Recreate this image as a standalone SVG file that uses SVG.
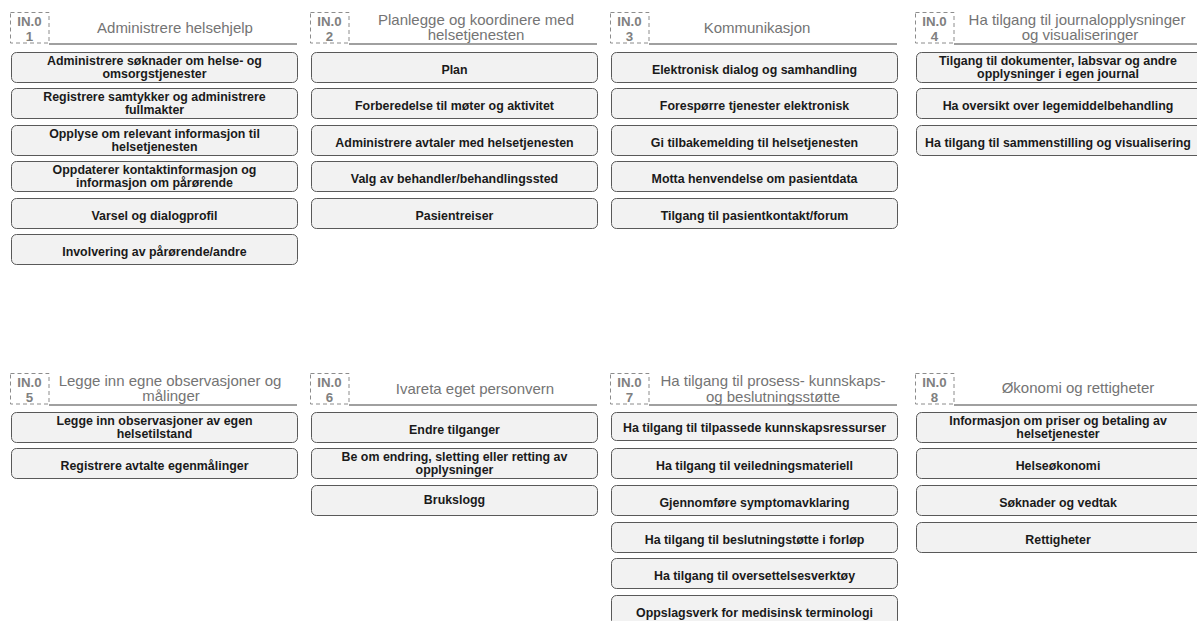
<svg xmlns="http://www.w3.org/2000/svg" width="1197" height="621" viewBox="0 0 1197 621">
<style>
.bg{fill:#ffffff}
.id{fill:none;stroke:#8c8c8c;stroke-width:1;stroke-dasharray:4 3}
.idt{font-family:"Liberation Sans",Arial,sans-serif;font-size:13.3px;font-weight:bold;fill:#808080;text-anchor:middle}
.hl{stroke:#808080;stroke-width:1.5}
.ht{font-family:"Liberation Sans",Arial,sans-serif;font-size:15px;fill:#747474;text-anchor:middle}
.b{fill:#f2f2f2;stroke:#595959;stroke-width:1}
.bt{font-family:"Liberation Sans",Arial,sans-serif;font-size:12.4px;font-weight:bold;fill:#1a1a1a;text-anchor:middle}
</style>
<rect class="bg" x="0" y="0" width="1197" height="621"/>

<!-- Column 1 -->
<g id="g1">
<rect class="id" x="10.5" y="12.5" width="38.5" height="30.5"/>
<text class="idt" x="29.5" y="26">IN.0</text><text class="idt" x="29.5" y="41">1</text>
<line class="hl" x1="49" y1="44" x2="297" y2="44"/>
<text class="ht" x="175" y="33">Administrere helsehjelp</text>
</g>
<g id="n1a"><rect class="b" x="11.5" y="52.5" width="286" height="30" rx="5"/><text class="bt" x="154.5" y="65">Administrere søknader om helse- og</text><text class="bt" x="154.5" y="77.5">omsorgstjenester</text></g>
<g id="n1b"><rect class="b" x="11.5" y="88.5" width="286" height="30" rx="5"/><text class="bt" x="154.5" y="101">Registrere samtykker og administrere</text><text class="bt" x="154.5" y="113.5">fullmakter</text></g>
<g id="n1c"><rect class="b" x="11.5" y="125.5" width="286" height="30" rx="5"/><text class="bt" x="154.5" y="138">Opplyse om relevant informasjon til</text><text class="bt" x="154.5" y="150.5">helsetjenesten</text></g>
<g id="n1d"><rect class="b" x="11.5" y="161.5" width="286" height="30" rx="5"/><text class="bt" x="154.5" y="174">Oppdaterer kontaktinformasjon og</text><text class="bt" x="154.5" y="186.5">informasjon om pårørende</text></g>
<g id="n1e"><rect class="b" x="11.5" y="198.5" width="286" height="30" rx="5"/><text class="bt" x="154.5" y="220">Varsel og dialogprofil</text></g>
<g id="n1f"><rect class="b" x="11.5" y="234.5" width="286" height="30" rx="5"/><text class="bt" x="154.5" y="256">Involvering av pårørende/andre</text></g>

<!-- Column 2 -->
<g id="g2">
<rect class="id" x="310.5" y="12.5" width="38.5" height="30.5"/>
<text class="idt" x="329.5" y="26">IN.0</text><text class="idt" x="329.5" y="41">2</text>
<line class="hl" x1="349" y1="44" x2="597" y2="44"/>
<text class="ht" x="476" y="25">Planlegge og koordinere med</text>
<text class="ht" x="476" y="40">helsetjenesten</text>
</g>
<g id="n2a"><rect class="b" x="311.5" y="52.5" width="286" height="30" rx="5"/><text class="bt" x="454.5" y="74">Plan</text></g>
<g id="n2b"><rect class="b" x="311.5" y="88.5" width="286" height="30" rx="5"/><text class="bt" x="454.5" y="110">Forberedelse til møter og aktivitet</text></g>
<g id="n2c"><rect class="b" x="311.5" y="125.5" width="286" height="30" rx="5"/><text class="bt" x="454.5" y="147">Administrere avtaler med helsetjenesten</text></g>
<g id="n2d"><rect class="b" x="311.5" y="161.5" width="286" height="30" rx="5"/><text class="bt" x="454.5" y="183">Valg av behandler/behandlingssted</text></g>
<g id="n2e"><rect class="b" x="311.5" y="198.5" width="286" height="30" rx="5"/><text class="bt" x="454.5" y="220">Pasientreiser</text></g>

<!-- Column 3 -->
<g id="g3">
<rect class="id" x="610.5" y="12.5" width="38.5" height="30.5"/>
<text class="idt" x="629.5" y="26">IN.0</text><text class="idt" x="629.5" y="41">3</text>
<line class="hl" x1="649" y1="44" x2="897" y2="44"/>
<text class="ht" x="757" y="33">Kommunikasjon</text>
</g>
<g id="n3a"><rect class="b" x="611.5" y="52.5" width="286" height="30" rx="5"/><text class="bt" x="754.5" y="74">Elektronisk dialog og samhandling</text></g>
<g id="n3b"><rect class="b" x="611.5" y="88.5" width="286" height="30" rx="5"/><text class="bt" x="754.5" y="110">Forespørre tjenester elektronisk</text></g>
<g id="n3c"><rect class="b" x="611.5" y="125.5" width="286" height="30" rx="5"/><text class="bt" x="754.5" y="147">Gi tilbakemelding til helsetjenesten</text></g>
<g id="n3d"><rect class="b" x="611.5" y="161.5" width="286" height="30" rx="5"/><text class="bt" x="754.5" y="183">Motta henvendelse om pasientdata</text></g>
<g id="n3e"><rect class="b" x="611.5" y="198.5" width="286" height="30" rx="5"/><text class="bt" x="754.5" y="220">Tilgang til pasientkontakt/forum</text></g>

<!-- Column 4 -->
<g id="g4">
<rect class="id" x="915.5" y="12.5" width="38.5" height="30.5"/>
<text class="idt" x="934.5" y="26">IN.0</text><text class="idt" x="934.5" y="41">4</text>
<line class="hl" x1="954" y1="44" x2="1197" y2="44"/>
<text class="ht" x="1077" y="25">Ha tilgang til journalopplysninger</text>
<text class="ht" x="1080" y="40">og visualiseringer</text>
</g>
<g id="n4a"><rect class="b" x="916.5" y="52.5" width="286" height="30" rx="5"/><text class="bt" x="1058" y="65">Tilgang til dokumenter, labsvar og andre</text><text class="bt" x="1058" y="77.5">opplysninger i egen journal</text></g>
<g id="n4b"><rect class="b" x="916.5" y="88.5" width="286" height="30" rx="5"/><text class="bt" x="1058" y="110">Ha oversikt over legemiddelbehandling</text></g>
<g id="n4c"><rect class="b" x="916.5" y="125.5" width="286" height="30" rx="5"/><text class="bt" x="1058" y="147">Ha tilgang til sammenstilling og visualisering</text></g>

<!-- Column 5 -->
<g id="g5">
<rect class="id" x="10.5" y="373.5" width="38.5" height="30.5"/>
<text class="idt" x="29.5" y="387">IN.0</text><text class="idt" x="29.5" y="402">5</text>
<line class="hl" x1="49" y1="405" x2="297" y2="405"/>
<text class="ht" x="170" y="386">Legge inn egne observasjoner og</text>
<text class="ht" x="171" y="401">målinger</text>
</g>
<g id="n5a"><rect class="b" x="11.5" y="412.5" width="286" height="30" rx="5"/><text class="bt" x="154.5" y="425">Legge inn observasjoner av egen</text><text class="bt" x="154.5" y="437.5">helsetilstand</text></g>
<g id="n5b"><rect class="b" x="11.5" y="448.5" width="286" height="30" rx="5"/><text class="bt" x="154.5" y="470">Registrere avtalte egenmålinger</text></g>

<!-- Column 6 -->
<g id="g6">
<rect class="id" x="310.5" y="373.5" width="38.5" height="30.5"/>
<text class="idt" x="329.5" y="387">IN.0</text><text class="idt" x="329.5" y="402">6</text>
<line class="hl" x1="349" y1="405" x2="597" y2="405"/>
<text class="ht" x="475" y="394">Ivareta eget personvern</text>
</g>
<g id="n6a"><rect class="b" x="311.5" y="412.5" width="286" height="30" rx="5"/><text class="bt" x="454.5" y="434">Endre tilganger</text></g>
<g id="n6b"><rect class="b" x="311.5" y="448.5" width="286" height="30" rx="5"/><text class="bt" x="454.5" y="461">Be om endring, sletting eller retting av</text><text class="bt" x="454.5" y="473.5">opplysninger</text></g>
<g id="n6c"><rect class="b" x="311.5" y="485.5" width="286" height="30" rx="5"/><text class="bt" x="454.5" y="504">Brukslogg</text></g>

<!-- Column 7 -->
<g id="g7">
<rect class="id" x="610.5" y="373.5" width="38.5" height="30.5"/>
<text class="idt" x="629.5" y="387">IN.0</text><text class="idt" x="629.5" y="402">7</text>
<line class="hl" x1="649" y1="405" x2="897" y2="405"/>
<text class="ht" x="773" y="386">Ha tilgang til prosess- kunnskaps-</text>
<text class="ht" x="773" y="402">og beslutningsstøtte</text>
</g>
<g id="n7a"><rect class="b" x="611.5" y="412.5" width="286" height="28" rx="5"/><text class="bt" x="754.5" y="432">Ha tilgang til tilpassede kunnskapsressurser</text></g>
<g id="n7b"><rect class="b" x="611.5" y="448.5" width="286" height="30" rx="5"/><text class="bt" x="754.5" y="470">Ha tilgang til veiledningsmateriell</text></g>
<g id="n7c"><rect class="b" x="611.5" y="485.5" width="286" height="30" rx="5"/><text class="bt" x="754.5" y="507">Gjennomføre symptomavklaring</text></g>
<g id="n7d"><rect class="b" x="611.5" y="522.5" width="286" height="30" rx="5"/><text class="bt" x="754.5" y="544">Ha tilgang til beslutningstøtte i forløp</text></g>
<g id="n7e"><rect class="b" x="611.5" y="558.5" width="286" height="30" rx="5"/><text class="bt" x="754.5" y="580">Ha tilgang til oversettelsesverktøy</text></g>
<g id="n7f"><rect class="b" x="611.5" y="595.5" width="286" height="30" rx="5"/><text class="bt" x="754.5" y="617">Oppslagsverk for medisinsk terminologi</text></g>

<!-- Column 8 -->
<g id="g8">
<rect class="id" x="915.5" y="373.5" width="38.5" height="30.5"/>
<text class="idt" x="934.5" y="387">IN.0</text><text class="idt" x="934.5" y="402">8</text>
<line class="hl" x1="954" y1="405" x2="1197" y2="405"/>
<text class="ht" x="1078" y="393">Økonomi og rettigheter</text>
</g>
<g id="n8a"><rect class="b" x="916.5" y="412.5" width="286" height="30" rx="5"/><text class="bt" x="1058" y="425">Informasjon om priser og betaling av</text><text class="bt" x="1058" y="437.5">helsetjenester</text></g>
<g id="n8b"><rect class="b" x="916.5" y="448.5" width="286" height="30" rx="5"/><text class="bt" x="1058" y="470">Helseøkonomi</text></g>
<g id="n8c"><rect class="b" x="916.5" y="485.5" width="286" height="30" rx="5"/><text class="bt" x="1058" y="507">Søknader og vedtak</text></g>
<g id="n8d"><rect class="b" x="916.5" y="522.5" width="286" height="30" rx="5"/><text class="bt" x="1058" y="544">Rettigheter</text></g>

<g id="connectors"></g>
</svg>
